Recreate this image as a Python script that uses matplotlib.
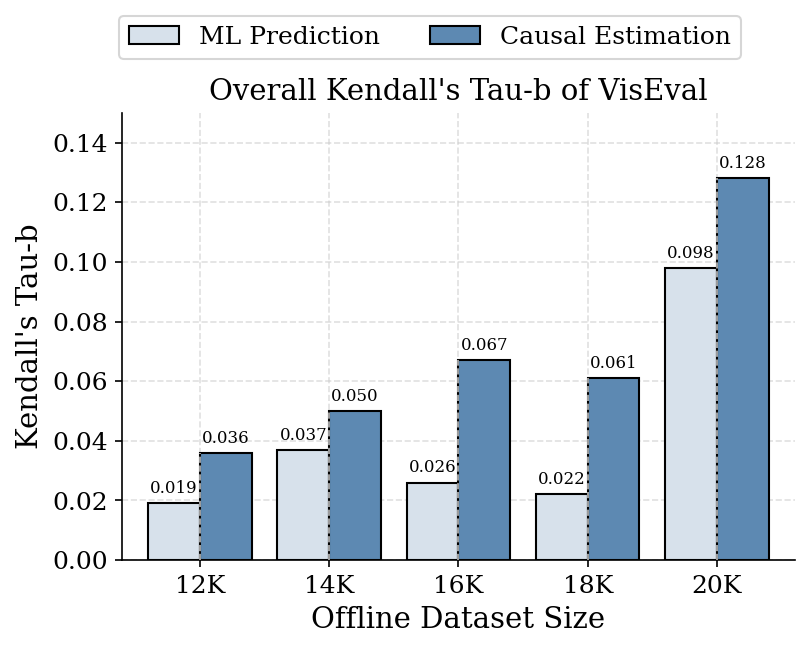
import numpy as np
import matplotlib.pyplot as plt

plt.rcParams['font.family'] = 'DejaVu Serif'

SIZES = ['12K', '14K', '16K', '18K', '20K']
ML_PRED = [0.019, 0.037, 0.026, 0.022, 0.098]
CAUSAL_EST = [0.036, 0.050, 0.067, 0.061, 0.128]
WIDTH = 0.4

x = np.arange(len(SIZES))
fig = plt.figure(figsize=(5.4, 4.327), dpi=150)
ax = fig.add_axes([0.151, 0.137, 0.830, 0.689])

b1 = ax.bar(x - WIDTH / 2, ML_PRED, WIDTH, color='#d7e1eb', edgecolor='black',
            linewidth=1, label='ML Prediction', zorder=2)
b2 = ax.bar(x + WIDTH / 2, CAUSAL_EST, WIDTH, color='#5d89b2', edgecolor='black',
            linewidth=1, label='Causal Estimation', zorder=2)
for bars in (b1, b2):
    ax.bar_label(bars, labels=[f'{v:.3f}' for v in bars.datavalues], padding=3, fontsize=8)

ax.grid(True, linestyle='--', color='#cccccc', alpha=0.6, linewidth=0.8)
ax.set_axisbelow(True)
# gridline shows through the shared bar edge
ax.vlines(x, 0, np.maximum(ML_PRED, CAUSAL_EST), colors='#bbbbbb', linestyles='--',
          linewidth=0.8, zorder=3)

ax.set_xticks(x, SIZES, fontsize=12)
ax.tick_params(axis='y', labelsize=12)
ax.set_ylim(0, 0.15)
ax.set_xlim(-0.6, 4.6)
ax.set_xlabel('Offline Dataset Size', fontsize=14)
ax.set_ylabel("Kendall's Tau-b", fontsize=14)
ax.set_title("Overall Kendall's Tau-b of VisEval", fontsize=14)
ax.spines['top'].set_visible(False); ax.spines['right'].set_visible(False)
ax.legend(loc='upper center', bbox_to_anchor=(0.458, 1.245), ncol=2, fontsize=12,
          frameon=True)
fig.savefig('out.png')
